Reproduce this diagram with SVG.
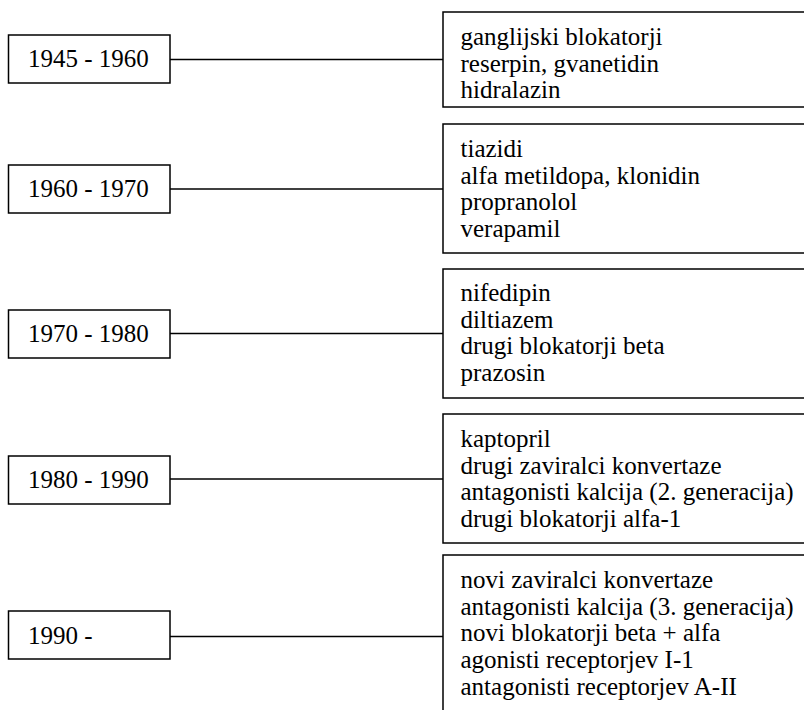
<svg xmlns="http://www.w3.org/2000/svg" width="804" height="710" viewBox="0 0 804 710">
<style>
.box{fill:#fff;stroke:#000;stroke-width:1.5}
.t{font-size:25px;fill:#000}
.conn{stroke:#000;stroke-width:1.5;fill:none}
</style>
<rect width="804" height="710" fill="#fff"/>
<g id="connectors">
<line class="conn" x1="170" y1="59.5" x2="443" y2="59.5"/>
<line class="conn" x1="170" y1="189" x2="443" y2="189"/>
<line class="conn" x1="170" y1="333.5" x2="443" y2="333.5"/>
<line class="conn" x1="170" y1="479" x2="443" y2="479"/>
<line class="conn" x1="170" y1="636.5" x2="443" y2="636.5"/>
</g>
<g font-family="'Liberation Serif', 'Times New Roman', Times, serif">
<g id="p1945">
<rect class="box" x="8.5" y="35" width="161.5" height="48"/>
<text class="t" x="28" y="67">1945 - 1960</text>
</g>
<g id="d1945">
<rect class="box" x="443" y="12" width="400" height="95"/>
<text class="t" x="460.5" y="45">ganglijski blokatorji</text>
<text class="t" x="460.5" y="71.7">reserpin, gvanetidin</text>
<text class="t" x="460.5" y="98.4">hidralazin</text>
</g>
<g id="p1960">
<rect class="box" x="8.5" y="165" width="161.5" height="48"/>
<text class="t" x="28" y="197">1960 - 1970</text>
</g>
<g id="d1960">
<rect class="box" x="443" y="124" width="400" height="129"/>
<text class="t" x="460.5" y="157">tiazidi</text>
<text class="t" x="460.5" y="183.7">alfa metildopa, klonidin</text>
<text class="t" x="460.5" y="210.4">propranolol</text>
<text class="t" x="460.5" y="237.1">verapamil</text>
</g>
<g id="p1970">
<rect class="box" x="8.5" y="310" width="161.5" height="48"/>
<text class="t" x="28" y="342">1970 - 1980</text>
</g>
<g id="d1970">
<rect class="box" x="443" y="269" width="400" height="129"/>
<text class="t" x="460.5" y="301">nifedipin</text>
<text class="t" x="460.5" y="327.7">diltiazem</text>
<text class="t" x="460.5" y="354.4">drugi blokatorji beta</text>
<text class="t" x="460.5" y="381.1">prazosin</text>
</g>
<g id="p1980">
<rect class="box" x="8.5" y="456" width="161.5" height="48"/>
<text class="t" x="28" y="488">1980 - 1990</text>
</g>
<g id="d1980">
<rect class="box" x="443" y="414" width="400" height="129"/>
<text class="t" x="460.5" y="447">kaptopril</text>
<text class="t" x="460.5" y="473.7">drugi zaviralci konvertaze</text>
<text class="t" x="460.5" y="500.4">antagonisti kalcija (2. generacija)</text>
<text class="t" x="460.5" y="527.1">drugi blokatorji alfa-1</text>
</g>
<g id="p1990">
<rect class="box" x="8.5" y="611" width="161.5" height="48"/>
<text class="t" x="28" y="644">1990 -</text>
</g>
<g id="d1990">
<rect class="box" x="443" y="555" width="400" height="200"/>
<text class="t" x="460.5" y="588">novi zaviralci konvertaze</text>
<text class="t" x="460.5" y="614.7">antagonisti kalcija (3. generacija)</text>
<text class="t" x="460.5" y="641.4">novi blokatorji beta + alfa</text>
<text class="t" x="460.5" y="668.1">agonisti receptorjev I-1</text>
<text class="t" x="460.5" y="694.8">antagonisti receptorjev A-II</text>
</g>
</g>
</svg>
